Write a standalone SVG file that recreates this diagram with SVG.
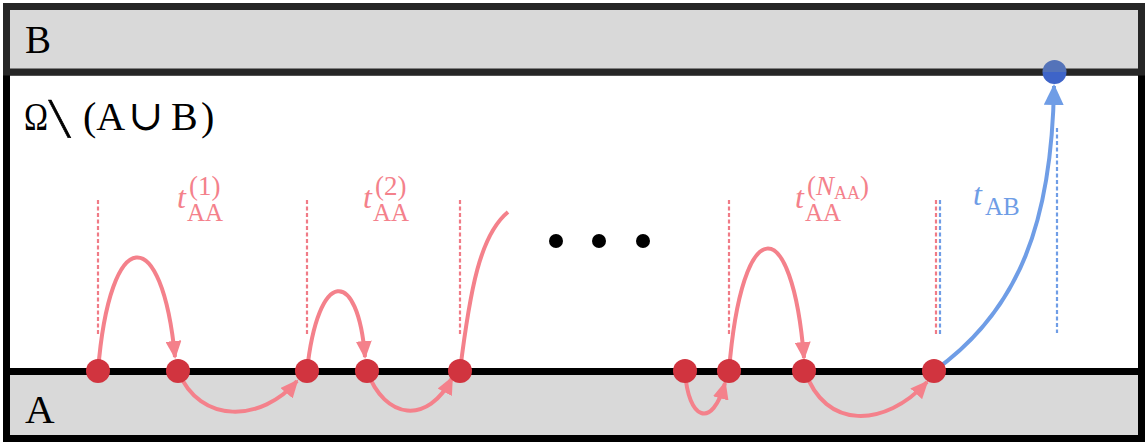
<svg xmlns="http://www.w3.org/2000/svg" width="1148" height="446" viewBox="0 0 1148 446">
<style>
.pink{fill:none;stroke:#f4818b;stroke-width:4}
.blue{fill:none;stroke:#6f9de6;stroke-width:4}
.pdot{fill:none;stroke:#f07b86;stroke-width:2.2;stroke-dasharray:4 2.5}
.bdot{fill:none;stroke:#6f9de6;stroke-width:2.2;stroke-dasharray:4 2.5}
.node{fill:#d1343f}
.lbl{font-family:"Liberation Serif","DejaVu Serif",serif;fill:#000}
.pt{font-family:"Liberation Serif","DejaVu Serif",serif;fill:#f4818b}
.bt{font-family:"Liberation Serif","DejaVu Serif",serif;fill:#6f9de6}
</style>
<defs>
<marker id="ap" markerUnits="userSpaceOnUse" markerWidth="18" markerHeight="16" viewBox="0 0 18 16" refX="16" refY="8" orient="auto"><path d="M0,0 L18,8 L0,16 z" fill="#f4818b"/></marker>
<marker id="ab" markerUnits="userSpaceOnUse" markerWidth="21" markerHeight="20" viewBox="0 0 21 20" refX="19" refY="10" orient="auto"><path d="M0,0 L21,10 L0,20 z" fill="#6f9de6"/></marker>
</defs>
<g id="regions">
<rect x="6.5" y="72" width="1135" height="299.5" fill="#fff" stroke="#000" stroke-width="7"/>
<rect x="6.5" y="371.5" width="1135" height="67" fill="#d9d9d9" stroke="#000" stroke-width="7"/>
<rect x="6.5" y="6.5" width="1135" height="65.5" fill="#d9d9d9" stroke="#262626" stroke-width="7"/>
<text class="lbl" x="25" y="53" font-size="39">B</text>
<text class="lbl" x="25" y="423" font-size="41">A</text>
<text class="lbl" x="24" y="130" font-size="40" textLength="24" lengthAdjust="spacingAndGlyphs">Ω</text>
<text class="lbl" transform="translate(55,137) skewX(10)" font-size="56" stroke="#000" stroke-width="0.8">\</text>
<text class="lbl" y="130" font-size="40"><tspan x="83">(A</tspan><tspan x="128" font-family="DejaVu Serif" font-size="42">∪</tspan><tspan x="171">B</tspan><tspan x="201">)</tspan></text>
</g>
<g id="guides">
<line class="pdot" x1="98" y1="200" x2="98" y2="335"/>
<line class="pdot" x1="307" y1="200" x2="307" y2="335"/>
<line class="pdot" x1="460" y1="200" x2="460" y2="335"/>
<line class="pdot" x1="729" y1="200" x2="729" y2="335"/>
<line class="pdot" x1="936" y1="200" x2="936" y2="335"/>
<line class="bdot" x1="940" y1="200" x2="940" y2="335"/>
<line class="bdot" x1="1057" y1="128" x2="1057" y2="333"/>
</g>
<g id="connectors">
<path class="pink" d="M98,371 C110,222 162,222 175,357" marker-end="url(#ap)"/>
<path class="pink" d="M178,371 C200,425 262,422 297,381" marker-end="url(#ap)"/>
<path class="pink" d="M307,371 C318,267 358,267 365,357" marker-end="url(#ap)"/>
<path class="pink" d="M367,371 C385,420 428,425 452,378" marker-end="url(#ap)"/>
<path class="pink" d="M460,371 C470,290 480,235 508,212"/>
<path class="pink" d="M685,371 C688,420 712,430 725,383" marker-end="url(#ap)"/>
<path class="pink" d="M729,371 C742,210 792,210 804,358" marker-end="url(#ap)"/>
<path class="pink" d="M805,371 C825,430 885,428 927,382" marker-end="url(#ap)"/>
<path class="blue" d="M934,371 C1020,310 1052,220 1054,86" marker-end="url(#ab)"/>
</g>
<g id="labels">
<text class="pt"><tspan x="177" y="208" font-size="32" font-style="italic">t</tspan><tspan x="189" y="195" font-size="27">(1)</tspan><tspan x="187" y="221" font-size="25">AA</tspan></text>
<text class="pt"><tspan x="363" y="208" font-size="32" font-style="italic">t</tspan><tspan x="375" y="195" font-size="27">(2)</tspan><tspan x="373" y="221" font-size="25">AA</tspan></text>
<text class="pt"><tspan x="795" y="208" font-size="32" font-style="italic">t</tspan><tspan x="807" y="195" font-size="27">(</tspan><tspan font-size="27" font-style="italic">N</tspan><tspan y="199" font-size="18">AA</tspan><tspan y="195" font-size="27">)</tspan><tspan x="805" y="221" font-size="25">AA</tspan></text>
<text class="bt"><tspan x="973" y="205" font-size="32" font-style="italic">t</tspan><tspan x="985" y="215" font-size="25">AB</tspan></text>
<g id="ellipsis"><circle cx="556" cy="241" r="7"/><circle cx="599" cy="241" r="7"/><circle cx="643" cy="241" r="7"/></g>
</g>
<g id="n1"><circle class="node" cx="98" cy="371" r="12"/></g>
<g id="n2"><circle class="node" cx="178" cy="371" r="12"/></g>
<g id="n3"><circle class="node" cx="307" cy="371" r="12"/></g>
<g id="n4"><circle class="node" cx="367" cy="371" r="12"/></g>
<g id="n5"><circle class="node" cx="460" cy="371" r="12"/></g>
<g id="n6"><circle class="node" cx="685" cy="371" r="12"/></g>
<g id="n7"><circle class="node" cx="729" cy="371" r="12"/></g>
<g id="n8"><circle class="node" cx="804" cy="371" r="12"/></g>
<g id="n9"><circle class="node" cx="934" cy="371" r="12"/></g>
<g id="nB"><path d="M1042.5,72 A12,12 0 0 1 1066.5,72 z" fill="#5473b9"/><path d="M1042.5,72 A12,12 0 0 0 1066.5,72 z" fill="#3e64c8"/></g>
</svg>
